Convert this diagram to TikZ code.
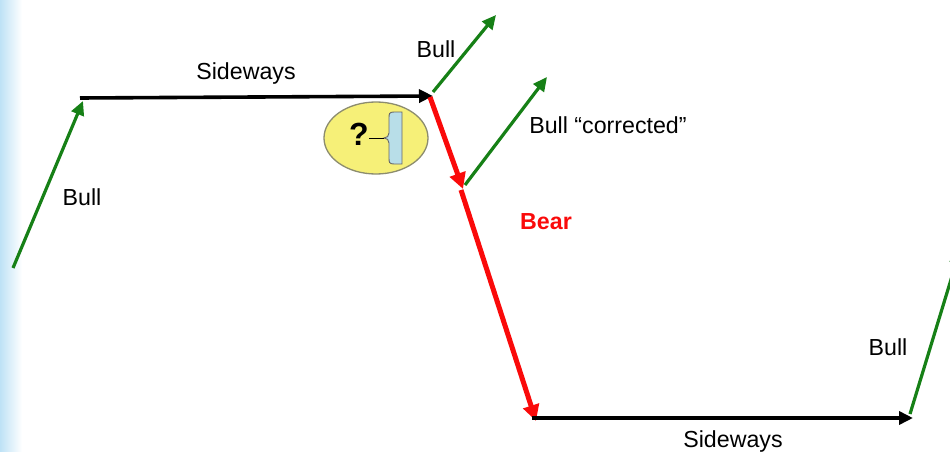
\documentclass[tikz,border=0pt]{standalone}
\usepackage{fontspec}
\setmainfont{Liberation Sans}
\usetikzlibrary{arrows.meta}
\definecolor{bullgreen}{RGB}{22,128,22}
\definecolor{bearred}{RGB}{250,10,10}
\definecolor{bandblue}{RGB}{190,226,246}
\definecolor{ellfill}{RGB}{246,240,120}
\definecolor{ellline}{RGB}{140,140,110}
\definecolor{bracefill}{RGB}{184,222,232}
\tikzset{
  tip/.style={-{Triangle[length=14pt,width=13pt]}},
  bullarrow/.style={tip, draw=bullgreen, line width=3.2pt},
  beararrow/.style={-{Triangle[length=16pt,width=16pt]}, draw=bearred, line width=5pt},
  sidearrow/.style={tip, draw=black, line width=3.6pt},
  lbl/.style={font=\fontsize{23.2}{27}\selectfont, inner sep=0pt},
}
\begin{document}
\begin{tikzpicture}[x=1pt,y=-1pt]
\useasboundingbox (0,0) rectangle (950,452);
\fill[white] (0,0) rectangle (950,452);
\shade[left color=bandblue, right color=white] (0,0) rectangle (22,452);
% coordinates
\coordinate (a0) at (13,268);
\coordinate (a1) at (83,101);
\coordinate (s0) at (80,98);
\coordinate (s1) at (433,96);
\coordinate (b0) at (433,92);
\coordinate (b1) at (496,15);
\coordinate (r0) at (430,97);
\coordinate (r1) at (463,189);
\coordinate (c0) at (465,185);
\coordinate (c1) at (547,77);
\coordinate (d0) at (461,190);
\coordinate (d1) at (536,421);
\coordinate (e0) at (532,418);
\coordinate (e1) at (913,418);
\coordinate (f0) at (910,414);
\coordinate (f1) at (960,250);
% arrows
\draw[bullarrow] (a0) -- (a1);
\draw[sidearrow] (s0) -- (s1);
\draw[bullarrow] (b0) -- (b1);
\draw[beararrow] (r0) -- (r1);
\draw[bullarrow] (c0) -- (c1);
\draw[beararrow] (d0) -- (d1);
\draw[sidearrow] (e0) -- (e1);
\draw[bullarrow] (f0) -- (f1);
% labels
\node[lbl] (lside1) at (246,74) {Sideways};
\node[lbl] (lbull1) at (82,197) {Bull};
\node[lbl] (lbull2) at (436,49) {Bull};
\node[lbl] (lcorr) at (608,125) {Bull “corrected”};
\node[lbl, text=bearred, font=\fontsize{23.2}{27}\selectfont\bfseries] (lbear) at (546,222) {Bear};
\node[lbl] (lside2) at (733,441) {Sideways};
\node[lbl] (lbull3) at (888,347) {Bull};
% ellipse with question
\draw[fill=ellfill, draw=ellline, line width=1.3pt] (376,138) ellipse [x radius=52, y radius=36];
\filldraw[fill=bracefill, draw=gray!80!black, line width=0.9pt]
  (402,112) -- (394,112) .. controls (389,112) and (389,114) .. (389,118)
  -- (389,133) .. controls (389,136) and (387,138) .. (384,138)
  .. controls (387,138) and (389,140) .. (389,143)
  -- (389,158) .. controls (389,162) and (389,164) .. (394,164) -- (402,164) -- cycle;
\node[font=\fontsize{32}{34}\selectfont\bfseries, inner sep=0pt] (q) at (359,134) {?};
\draw[black, line width=1pt] (369,138) -- (384,138);
\end{tikzpicture}
\end{document}
